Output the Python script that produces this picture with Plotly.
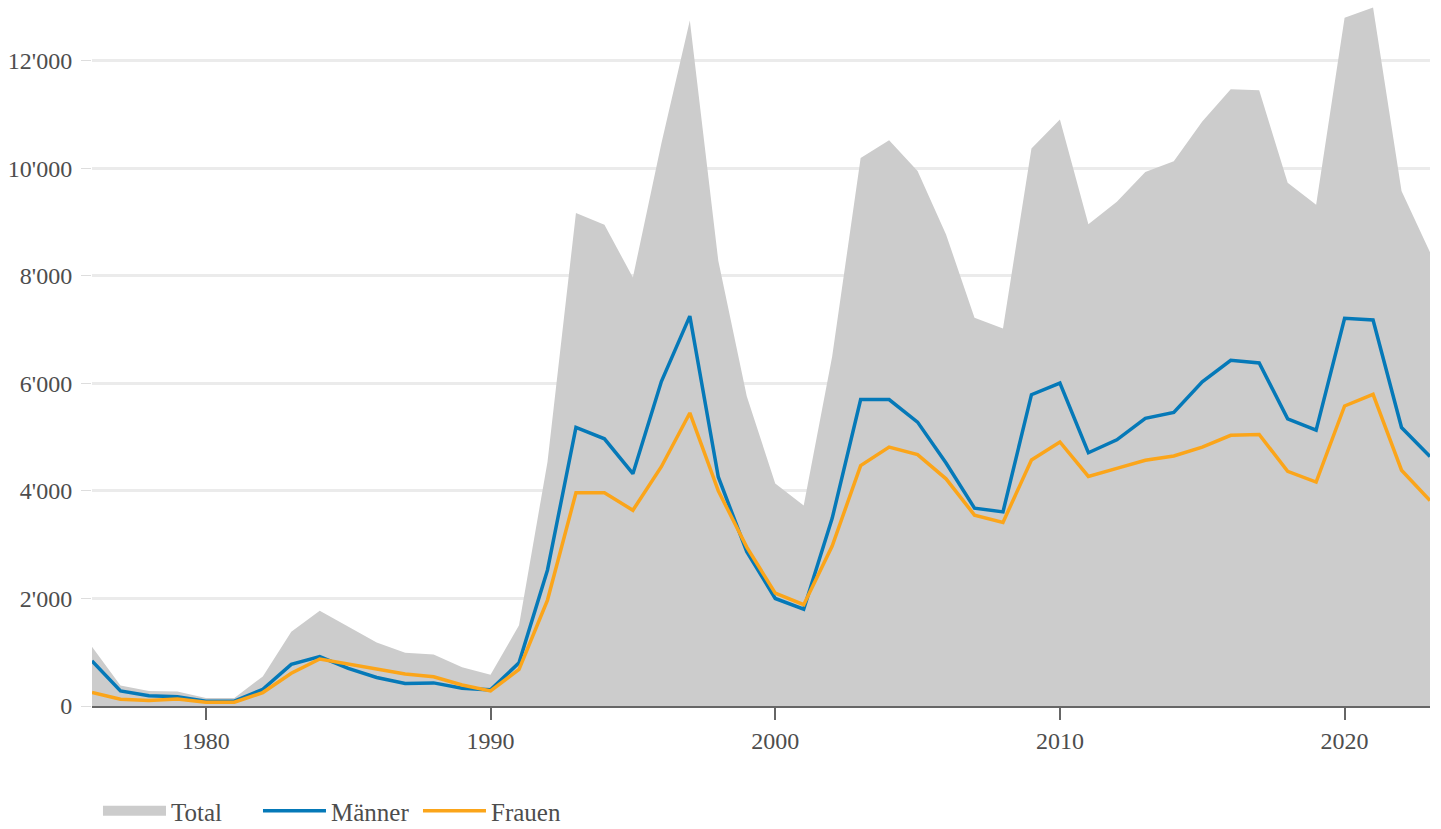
import plotly.graph_objects as go

years = list(range(1976, 2024))

total = [1100, 380, 280, 270, 150, 150, 550, 1380, 1770, 1480, 1180, 990, 960, 720, 580, 1500,
         4540, 9170, 8950, 7970, 10460, 12750, 8280, 5760, 4140, 3730,
         6500, 10190, 10520, 9950, 8770, 7220, 7020, 10370, 10910, 8960,
         9380, 9930, 10130, 10870, 11470, 11450, 9730, 9320, 12800, 12990, 9580, 8440]

maenner = [840, 280, 190, 170, 90, 90, 310, 775, 920, 700, 530, 420, 430, 330, 300, 805,
           2530, 5180, 4970, 4320, 6035, 7250, 4260, 2870, 2000, 1800,
           3490, 5700, 5700, 5280, 4520, 3680, 3610, 5790, 6005, 4710,
           4950, 5350, 5460, 6030, 6430, 6380, 5340, 5130, 7210, 7180, 5180, 4640]

frauen = [250, 125, 100, 130, 70, 70, 250, 610, 875, 780, 690, 595, 545, 390, 280, 680,
          1970, 3965, 3965, 3640, 4450, 5450, 4000, 2955, 2100, 1885,
          2975, 4470, 4815, 4675, 4225, 3550, 3415, 4575, 4910, 4270,
          4420, 4570, 4650, 4815, 5035, 5050, 4365, 4165, 5580, 5795, 4385, 3820]

x_ticks = [1980, 1990, 2000, 2010, 2020]
y_ticks = [0, 2000, 4000, 6000, 8000, 10000, 12000]

GRAY = "#cccccc"
BLUE = "#0579b8"
ORANGE = "#fba51a"
TXT = "#4d4d4d"

fig = go.Figure()
fig.add_trace(go.Scatter(x=years, y=total, name="Total", mode="lines",
                         fill="tozeroy", fillcolor=GRAY,
                         line=dict(width=0, color=GRAY), showlegend=False))
# legend swatch for Total (no data)
fig.add_trace(go.Scatter(x=[None], y=[None], name="Total", mode="lines",
                         line=dict(width=15, color=GRAY)))
fig.add_trace(go.Scatter(x=years, y=maenner, name="Männer", mode="lines",
                         line=dict(width=3.5, color=BLUE)))
fig.add_trace(go.Scatter(x=years, y=frauen, name="Frauen", mode="lines",
                         line=dict(width=3.5, color=ORANGE)))

fig.update_layout(
    width=1441, height=829,
    margin=dict(l=92, r=11, t=7, b=123),
    paper_bgcolor="white", plot_bgcolor="white",
    font=dict(family="Liberation Serif, Times New Roman, serif", size=24, color=TXT),
    separators=".'",
    showlegend=True,
    legend=dict(orientation="h", xref="container", yref="container",
                x=0.068, xanchor="left", y=0.0217, yanchor="middle",
                font=dict(size=25, color=TXT), itemwidth=63,
                entrywidth=82, entrywidthmode="pixels",
                traceorder="normal", bgcolor="rgba(0,0,0,0)"),
    xaxis=dict(range=[1976, 2023], tickvals=x_ticks, showgrid=False, zeroline=False,
               automargin=False,
               showline=True, linecolor="#666666", linewidth=2,
               ticks="outside", ticklen=12, tickwidth=2, tickcolor="#666666",
               ticklabelstandoff=0,
               tickfont=dict(size=24, color=TXT)),
    yaxis=dict(range=[0, 13000], tickvals=y_ticks, tickformat=",d", automargin=False,
               showgrid=True, gridcolor="#ebebeb", gridwidth=3, zeroline=False,
               showline=False, ticks="outside", ticklen=10, tickwidth=1, tickcolor="#dddddd",
               ticklabelstandoff=4,
               tickfont=dict(size=24, color=TXT)),
)

fig.write_html("out.html", config={"displayModeBar": False},
               post_script="document.body.style.margin='0';document.body.style.overflow='hidden';")
